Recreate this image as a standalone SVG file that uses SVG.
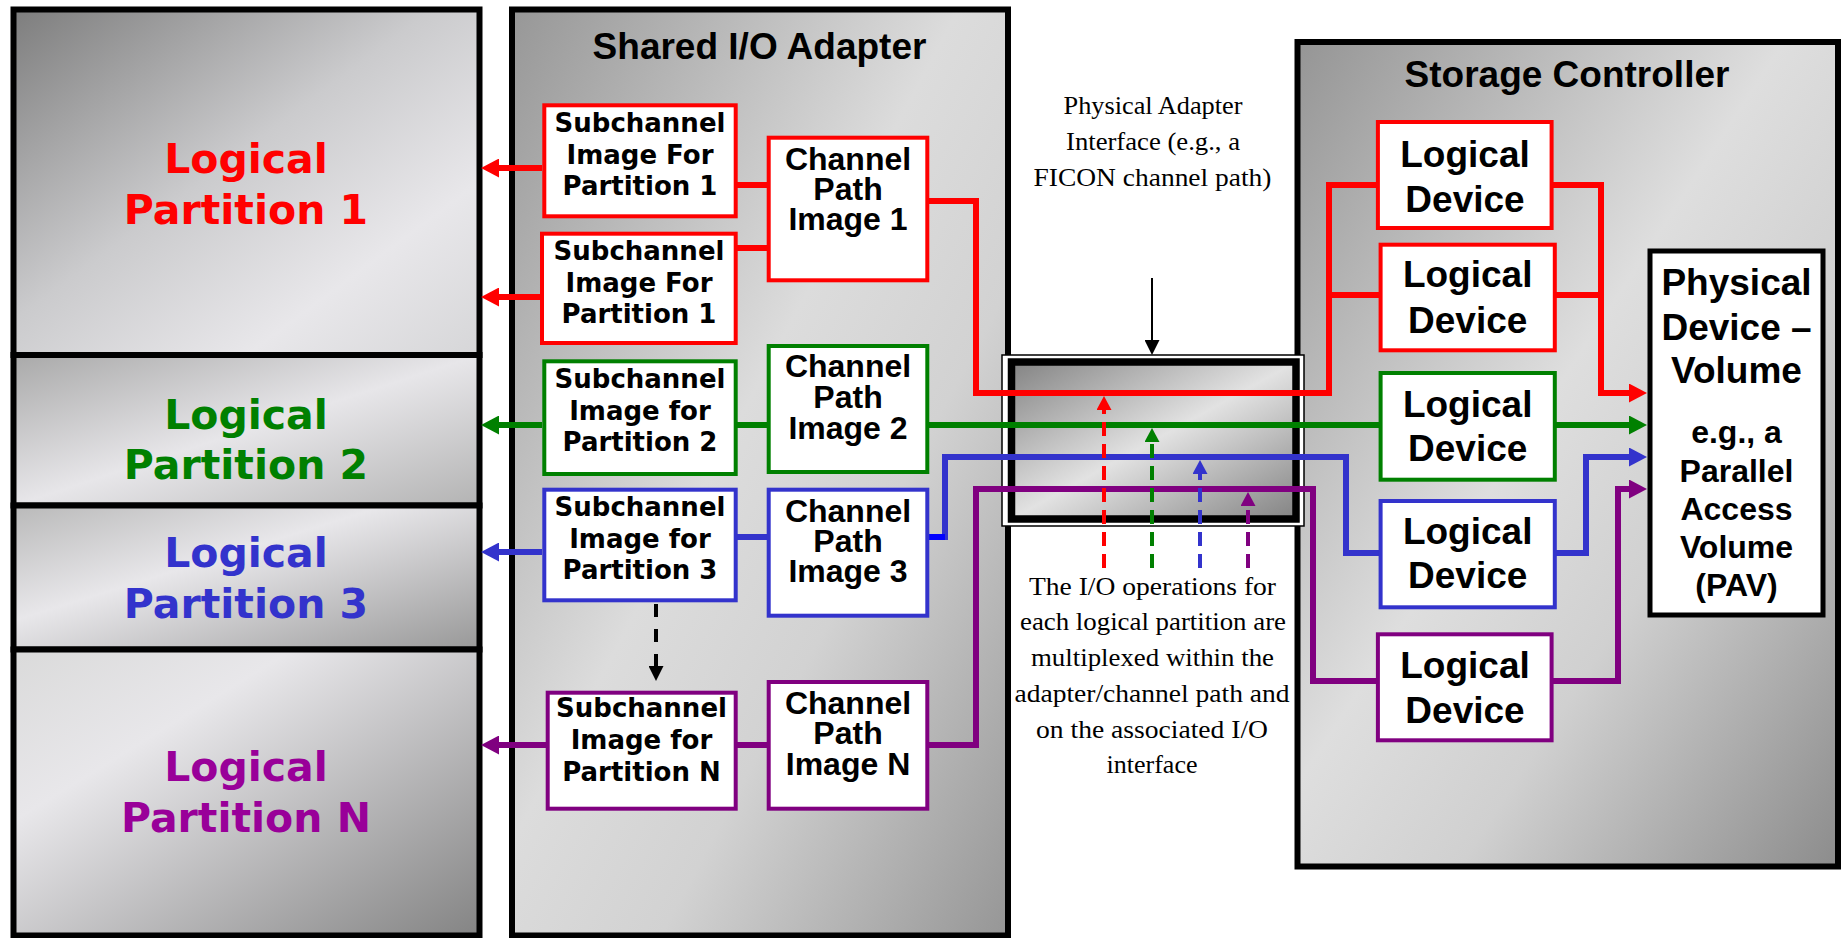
<svg xmlns="http://www.w3.org/2000/svg" width="1841" height="938" viewBox="0 0 1841 938">
<defs>
<linearGradient id="gLP1" x1="0" y1="0" x2="1" y2="1"><stop offset="0" stop-color="#7d7d7d"/><stop offset="0.45" stop-color="#cbcbcd"/><stop offset="0.75" stop-color="#e8e7ea"/><stop offset="1" stop-color="#d6d6d8"/></linearGradient>
<linearGradient id="gLP2" x1="0" y1="0" x2="1" y2="1"><stop offset="0" stop-color="#a9a9a9"/><stop offset="0.5" stop-color="#e7e6e9"/><stop offset="1" stop-color="#b3b3b3"/></linearGradient>
<linearGradient id="gLP3" x1="0" y1="0" x2="1" y2="1"><stop offset="0" stop-color="#b9b9b9"/><stop offset="0.4" stop-color="#e8e7ea"/><stop offset="1" stop-color="#989898"/></linearGradient>
<linearGradient id="gLPN" x1="0" y1="0" x2="1" y2="1"><stop offset="0" stop-color="#dadada"/><stop offset="0.3" stop-color="#e8e7ea"/><stop offset="1" stop-color="#848484"/></linearGradient>
<linearGradient id="gAd" x1="0" y1="0" x2="1" y2="1"><stop offset="0" stop-color="#979797"/><stop offset="0.45" stop-color="#dcdcdc"/><stop offset="0.65" stop-color="#d2d2d2"/><stop offset="1" stop-color="#969696"/></linearGradient>
<linearGradient id="gSC" x1="0" y1="0" x2="1" y2="1"><stop offset="0" stop-color="#959595"/><stop offset="0.45" stop-color="#dedede"/><stop offset="0.65" stop-color="#d0d0d0"/><stop offset="1" stop-color="#8c8c8c"/></linearGradient>
<linearGradient id="gMux" x1="0" y1="0" x2="1" y2="1"><stop offset="0" stop-color="#838383"/><stop offset="0.5" stop-color="#e2e2e2"/><stop offset="1" stop-color="#838383"/></linearGradient>
<marker id="ahR" markerUnits="userSpaceOnUse" markerWidth="18" markerHeight="19" refX="8" refY="9.5" orient="auto"><path d="M0,0 L18,9.5 L0,19 z" fill="#ff0000"/></marker>
<marker id="ahG" markerUnits="userSpaceOnUse" markerWidth="18" markerHeight="19" refX="8" refY="9.5" orient="auto"><path d="M0,0 L18,9.5 L0,19 z" fill="#008000"/></marker>
<marker id="ahB" markerUnits="userSpaceOnUse" markerWidth="18" markerHeight="19" refX="8" refY="9.5" orient="auto"><path d="M0,0 L18,9.5 L0,19 z" fill="#3333cc"/></marker>
<marker id="ahP" markerUnits="userSpaceOnUse" markerWidth="18" markerHeight="19" refX="8" refY="9.5" orient="auto"><path d="M0,0 L18,9.5 L0,19 z" fill="#800080"/></marker>
<marker id="dhR" markerUnits="userSpaceOnUse" markerWidth="14" markerHeight="15" refX="6" refY="7.5" orient="auto"><path d="M0,0 L14,7.5 L0,15 z" fill="#ff0000"/></marker>
<marker id="dhG" markerUnits="userSpaceOnUse" markerWidth="14" markerHeight="15" refX="6" refY="7.5" orient="auto"><path d="M0,0 L14,7.5 L0,15 z" fill="#008000"/></marker>
<marker id="dhB" markerUnits="userSpaceOnUse" markerWidth="14" markerHeight="15" refX="6" refY="7.5" orient="auto"><path d="M0,0 L14,7.5 L0,15 z" fill="#3333cc"/></marker>
<marker id="dhP" markerUnits="userSpaceOnUse" markerWidth="14" markerHeight="15" refX="6" refY="7.5" orient="auto"><path d="M0,0 L14,7.5 L0,15 z" fill="#800080"/></marker>
<marker id="dhK" markerUnits="userSpaceOnUse" markerWidth="15" markerHeight="15" refX="6" refY="7.5" orient="auto"><path d="M0,0 L15,7.5 L0,15 z" fill="#000"/></marker>
</defs>
<style>
.panel{stroke:#000;stroke-width:6}
.box{fill:#fff;stroke-width:4}
.sc{font-family:"DejaVu Sans",Verdana,sans-serif;font-weight:bold;font-size:26px;text-anchor:middle;fill:#000}
.cp{font-family:"Liberation Sans",Arial,sans-serif;font-weight:bold;font-size:32px;text-anchor:middle;fill:#000}
.ld{font-family:"Liberation Sans",Arial,sans-serif;font-weight:bold;font-size:37px;text-anchor:middle;fill:#000}
.lp{font-family:"DejaVu Sans",Verdana,sans-serif;font-weight:bold;font-size:41px;text-anchor:middle}
.note{font-family:"Liberation Serif","Times New Roman",serif;font-size:26px;text-anchor:middle;fill:#000}
.wire{fill:none;stroke-width:6}
.dash{fill:none;stroke-width:4;stroke-dasharray:14 8}
</style>
<rect width="1841" height="938" fill="#fff"/>

<!-- Logical partitions -->
<g id="lp1"><rect class="panel" x="13.5" y="9.5" width="466" height="345.5" fill="url(#gLP1)"/>
<text class="lp" fill="#ff0000" x="246" y="173">Logical</text><text class="lp" fill="#ff0000" x="246" y="224">Partition 1</text></g>
<g id="lp2"><rect class="panel" x="13.5" y="355" width="466" height="150.5" fill="url(#gLP2)"/>
<text class="lp" fill="#008000" x="246" y="429">Logical</text><text class="lp" fill="#008000" x="246" y="479">Partition 2</text></g>
<g id="lp3"><rect class="panel" x="13.5" y="505.5" width="466" height="144" fill="url(#gLP3)"/>
<text class="lp" fill="#3333cc" x="246" y="567">Logical</text><text class="lp" fill="#3333cc" x="246" y="618">Partition 3</text></g>
<g id="lpn"><rect class="panel" x="13.5" y="649.5" width="466" height="286" fill="url(#gLPN)"/>
<text class="lp" fill="#990099" x="246" y="781">Logical</text><text class="lp" fill="#990099" x="246" y="832">Partition N</text></g>

<!-- Shared I/O adapter -->
<g id="adapter"><rect class="panel" x="512" y="9.5" width="496" height="926" fill="url(#gAd)"/>
<text class="ld" x="759.5" y="59">Shared I/O Adapter</text></g>

<!-- Storage controller -->
<g id="storage"><rect class="panel" x="1297.5" y="42" width="540.5" height="824.5" fill="url(#gSC)"/>
<text class="ld" x="1567" y="87">Storage Controller</text></g>

<!-- Physical adapter interface (multiplex box) -->
<g id="mux"><rect x="1002" y="355" width="302" height="171" fill="#fff" stroke="#000" stroke-width="1.5"/>
<rect x="1011.5" y="362" width="284.5" height="157" fill="url(#gMux)" stroke="#000" stroke-width="7.5"/></g>

<!-- Connectors -->
<g id="connectors">
<g stroke="#ff0000" class="wire">
<path class="wire" d="M542,168 H491" marker-end="url(#ahR)"/>
<path class="wire" d="M540,297 H491" marker-end="url(#ahR)"/>
<path class="wire" d="M736,185 H769"/>
<path class="wire" d="M736,248 H769"/>
<path class="wire" d="M927,201 H976 V393 H1329 V185 H1378"/>
<path class="wire" d="M1329,295 H1380"/>
<path class="wire" d="M1552,185 H1601 V393 H1637" marker-end="url(#ahR)"/>
<path class="wire" d="M1555,295 H1601"/>
</g>
<g stroke="#008000">
<path class="wire" d="M542,425 H491" marker-end="url(#ahG)"/>
<path class="wire" d="M736,425 H769"/>
<path class="wire" d="M927,425 H1380"/>
<path class="wire" d="M1555,425 H1637" marker-end="url(#ahG)"/>
</g>
<g stroke="#3333cc">
<path class="wire" d="M542,552 H491" marker-end="url(#ahB)"/>
<path class="wire" d="M736,537 H769"/>
<path class="wire" d="M943,537 H945 V457 H1346 V553 H1380"/>
<path class="wire" d="M1555,553 H1586 V457 H1637" marker-end="url(#ahB)"/>
</g>
<path class="wire" stroke="#0000ff" d="M927,537 H945"/>
<g stroke="#800080">
<path class="wire" d="M546,745 H491" marker-end="url(#ahP)"/>
<path class="wire" d="M736,745 H769"/>
<path class="wire" d="M927,745 H976 V489 H1313 V681 H1378"/>
<path class="wire" d="M1552,681 H1618 V489 H1637" marker-end="url(#ahP)"/>
</g>
<path class="dash" stroke="#ff0000" d="M1104,568 V404" marker-end="url(#dhR)"/>
<path class="dash" stroke="#008000" d="M1152,568 V436" marker-end="url(#dhG)"/>
<path class="dash" stroke="#3333cc" d="M1200,568 V468" marker-end="url(#dhB)"/>
<path class="dash" stroke="#800080" d="M1248,568 V500" marker-end="url(#dhP)"/>
<path d="M656,604 V672" fill="none" stroke="#000" stroke-width="4" stroke-dasharray="13 12" marker-end="url(#dhK)"/>
<path d="M1152,278 V346" fill="none" stroke="#000" stroke-width="2" marker-end="url(#dhK)"/>
</g>

<!-- Subchannel images -->
<g id="sub1"><rect class="box" stroke="#ff0000" x="544.3" y="105.3" width="191.4" height="111"/>
<text class="sc" x="640" y="132">Subchannel</text><text class="sc" x="640" y="163.5">Image For</text><text class="sc" x="640" y="195">Partition 1</text></g>
<g id="sub1b"><rect class="box" stroke="#ff0000" x="542" y="233.7" width="193.7" height="109.3"/>
<text class="sc" x="639" y="260">Subchannel</text><text class="sc" x="639" y="291.5">Image For</text><text class="sc" x="639" y="323">Partition 1</text></g>
<g id="sub2"><rect class="box" stroke="#008000" x="544.3" y="361.3" width="191.4" height="112.7"/>
<text class="sc" x="640" y="388">Subchannel</text><text class="sc" x="640" y="420">Image for</text><text class="sc" x="640" y="451">Partition 2</text></g>
<g id="sub3"><rect class="box" stroke="#3333cc" x="544.3" y="489.7" width="191.4" height="110.6"/>
<text class="sc" x="640" y="516">Subchannel</text><text class="sc" x="640" y="548">Image for</text><text class="sc" x="640" y="579">Partition 3</text></g>
<g id="subn"><rect class="box" stroke="#800080" x="547.7" y="692.7" width="188" height="116"/>
<text class="sc" x="641.5" y="717">Subchannel</text><text class="sc" x="641.5" y="749">Image for</text><text class="sc" x="641.5" y="781">Partition N</text></g>

<!-- Channel path images -->
<g id="cpi1"><rect class="box" stroke="#ff0000" x="768.7" y="137.7" width="158.6" height="142.6"/>
<text class="cp" x="848" y="170">Channel</text><text class="cp" x="848" y="200">Path</text><text class="cp" x="848" y="230">Image 1</text></g>
<g id="cpi2"><rect class="box" stroke="#008000" x="768.7" y="346" width="158.6" height="126"/>
<text class="cp" x="848" y="377">Channel</text><text class="cp" x="848" y="408">Path</text><text class="cp" x="848" y="439">Image 2</text></g>
<g id="cpi3"><rect class="box" stroke="#3333cc" x="768.7" y="489.7" width="158.6" height="126"/>
<text class="cp" x="848" y="522">Channel</text><text class="cp" x="848" y="552">Path</text><text class="cp" x="848" y="582">Image 3</text></g>
<g id="cpin"><rect class="box" stroke="#800080" x="768.7" y="682" width="158.6" height="126.7"/>
<text class="cp" x="848" y="714">Channel</text><text class="cp" x="848" y="744">Path</text><text class="cp" x="848" y="775">Image N</text></g>

<!-- Logical devices -->
<g id="ld1"><rect class="box" stroke="#ff0000" x="1377.9" y="122" width="173.7" height="106"/>
<text class="ld" x="1465" y="167">Logical</text><text class="ld" x="1465" y="212">Device</text></g>
<g id="ld2"><rect class="box" stroke="#ff0000" x="1380.6" y="244.7" width="174.2" height="105.6"/>
<text class="ld" x="1467.7" y="287">Logical</text><text class="ld" x="1467.7" y="333">Device</text></g>
<g id="ld3"><rect class="box" stroke="#008000" x="1380.6" y="373" width="174.2" height="106.7"/>
<text class="ld" x="1467.7" y="417">Logical</text><text class="ld" x="1467.7" y="461">Device</text></g>
<g id="ld4"><rect class="box" stroke="#3333cc" x="1380.6" y="501" width="174.2" height="106.3"/>
<text class="ld" x="1467.7" y="544">Logical</text><text class="ld" x="1467.7" y="588">Device</text></g>
<g id="ld5"><rect class="box" stroke="#800080" x="1377.9" y="634.3" width="173.7" height="106"/>
<text class="ld" x="1465" y="678">Logical</text><text class="ld" x="1465" y="723">Device</text></g>

<!-- Physical device -->
<g id="pdv"><rect x="1650" y="251" width="173" height="364" fill="#fff" stroke="#000" stroke-width="5"/>
<text class="ld" x="1736.5" y="295">Physical</text><text class="ld" x="1736.5" y="339.5">Device –</text><text class="ld" x="1736.5" y="383">Volume</text>
<text class="cp" x="1736.5" y="443">e.g., a</text><text class="cp" x="1736.5" y="482">Parallel</text><text class="cp" x="1736.5" y="520">Access</text><text class="cp" x="1736.5" y="558">Volume</text><text class="cp" x="1736.5" y="596">(PAV)</text></g>

<!-- Notes -->
<g id="note-adapter">
<text class="note" x="1153" y="114" textLength="179" lengthAdjust="spacingAndGlyphs">Physical Adapter</text>
<text class="note" x="1153" y="150" textLength="174" lengthAdjust="spacingAndGlyphs">Interface (e.g., a</text>
<text class="note" x="1152.5" y="186" textLength="238" lengthAdjust="spacingAndGlyphs">FICON channel path)</text>
</g>
<g id="note-mux">
<text class="note" x="1152.5" y="595" textLength="247" lengthAdjust="spacingAndGlyphs">The I/O operations for</text>
<text class="note" x="1153" y="630" textLength="266" lengthAdjust="spacingAndGlyphs">each logical partition are</text>
<text class="note" x="1152.5" y="666" textLength="243" lengthAdjust="spacingAndGlyphs">multiplexed within the</text>
<text class="note" x="1152" y="702" textLength="275" lengthAdjust="spacingAndGlyphs">adapter/channel path and</text>
<text class="note" x="1152" y="738" textLength="232" lengthAdjust="spacingAndGlyphs">on the associated I/O</text>
<text class="note" x="1152" y="773" textLength="91" lengthAdjust="spacingAndGlyphs">interface</text>
</g>
</svg>
